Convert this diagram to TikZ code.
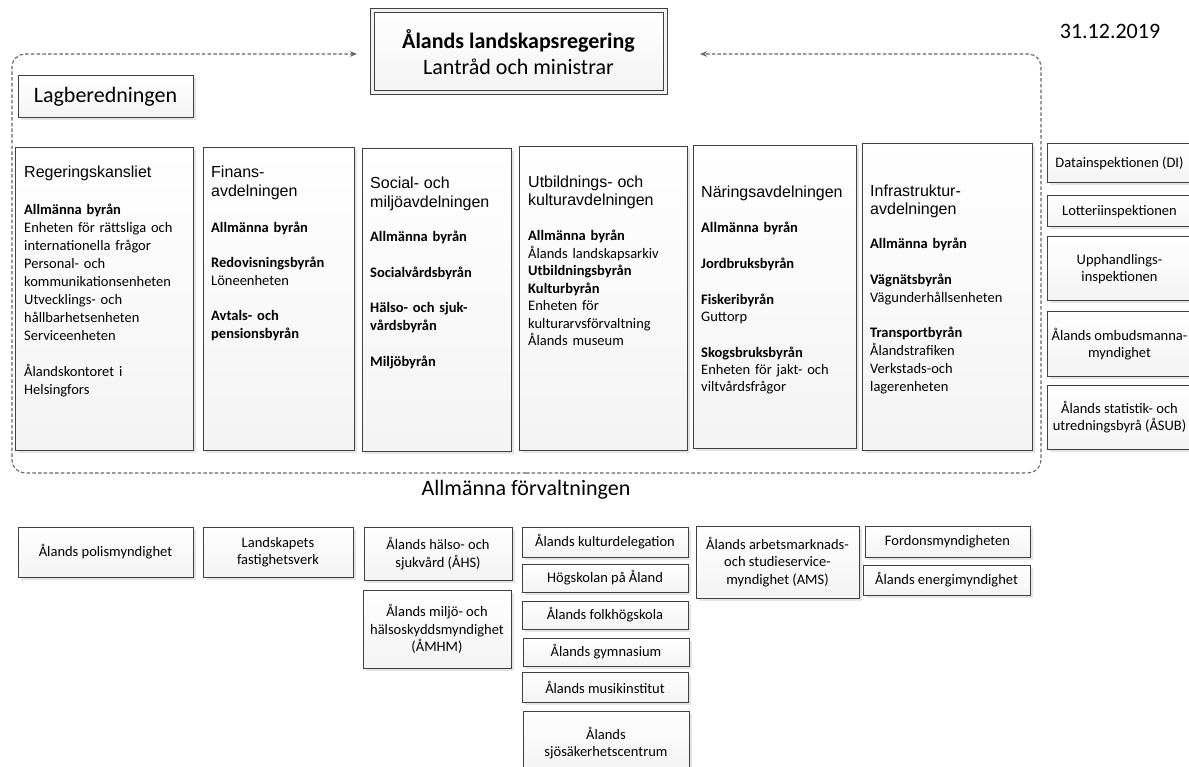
\documentclass[tikz,border=0pt]{standalone}
\usepackage{fontspec}
\setmainfont{Carlito}
\newfontfamily\titlef{Liberation Sans}
\newcommand\deptttl{\titlef\fontsize{16}{18}\selectfont}
\usetikzlibrary{shadows,arrows.meta}
\definecolor{ln}{HTML}{404040}
\definecolor{dl}{HTML}{666666}
\begin{document}
\begin{tikzpicture}[x=1pt,y=-1pt,
  box/.style={draw=ln, line width=1pt, top color=white, bottom color=gray!9,
    drop shadow={shadow xshift=2.5pt,shadow yshift=-2.5pt,fill=black,opacity=0.1},
    anchor=north west, inner sep=0pt, outer sep=0pt,
    font=\fontsize{14.5}{17.5}\selectfont, align=center},
  coltxt/.style={anchor=north west, inner sep=0pt, text width=172pt, align=left,
    font=\fontsize{14.5}{18}\selectfont},
  frame/.style={draw=dl, line width=1.1pt, dash pattern=on 3.5pt off 2.2pt,
    rounded corners=13pt, -{Stealth[length=7pt,width=5.5pt]}},
]
\fill[white] (0,0) rectangle (1189,767);
\useasboundingbox (0,0) rectangle (1189,767);

% top
\node[box, draw=ln, double=gray!10, double distance=3pt, minimum width=293pt, minimum height=82pt,
  font=\fontsize{22}{26}\selectfont] (top) at (372,11)
  {\textbf{Ålands landskapsregering}\\[-0.5pt]Lantråd och ministrar};
\node[anchor=base, inner sep=0pt, font=\fontsize{22}{26}\selectfont] (date) at (1110,39) {31.12.2019};

% frame
\coordinate (fb) at (526,473);
\coordinate (fbl) at (12,473);
\coordinate (ftl) at (12,54);
\coordinate (fbr) at (1041,473);
\coordinate (ftr) at (1041,54);
\draw[frame, shorten >=15pt] (fb) -- (fbl) -- (ftl) -- (top.west |- ftl);
\draw[frame, shorten >=35pt] (fb) -- (fbr) -- (ftr) -- (top.east |- ftr);
\node[anchor=base, inner sep=0pt, font=\fontsize{22}{26}\selectfont] (af) at (526,495) {Allmänna förvaltningen};

% Lagberedningen
\node[box, minimum width=175pt, minimum height=42pt, font=\fontsize{22}{26}\selectfont] (lag) at (18,76) {Lagberedningen};

% departments
\node[box, minimum width=178pt, minimum height=302pt] (rk) at (15,148) {};
\node[box, minimum width=151pt, minimum height=302pt] (fin) at (203,148) {};
\node[box, minimum width=149pt, minimum height=302pt] (soc) at (362,149) {};
\node[box, minimum width=168pt, minimum height=303pt] (utb) at (519,147) {};
\node[box, minimum width=163pt, minimum height=302pt] (nar) at (693,146) {};
\node[box, minimum width=170pt, minimum height=306pt] (inf) at (862,144) {};

\node[coltxt] (rkt) at (24,165.4) {{\deptttl Regeringskansliet}\\[19pt]
\textbf{Allmänna byrån}\\
Enheten för rättsliga och\\
internationella frågor\\
Personal- och\\
kommunikationsenheten\\
Utvecklings- och\\
hållbarhetsenheten\\
Serviceenheten\\[18pt]
Ålandskontoret i\\
Helsingfors};

\node[coltxt] (fint) at (211,165.4) {{\deptttl Finans-}\\[1pt]
{\deptttl avdelningen}\\[18pt]
\textbf{Allmänna byrån}\\[17pt]
\textbf{Redovisningsbyrån}\\
Löneenheten\\[17pt]
\textbf{Avtals- och}\\
\textbf{pensionsbyrån}};

\node[coltxt] (soct) at (370,176.4) {{\deptttl Social- och}\\[1pt]
{\deptttl miljöavdelningen}\\[16pt]
\textbf{Allmänna byrån}\\[18pt]
\textbf{Socialvårdsbyrån}\\[17pt]
\textbf{Hälso- och sjuk-}\\
\textbf{vårdsbyrån}\\[18pt]
\textbf{Miljöbyrån}};

\node[coltxt, font=\fontsize{14.5}{17.5}\selectfont] (utbt) at (528,175.4) {{\deptttl Utbildnings- och}\\[0.5pt]
{\deptttl kulturavdelningen}\\[18pt]
\textbf{Allmänna byrån}\\
Ålands landskapsarkiv\\
\textbf{Utbildningsbyrån}\\
\textbf{Kulturbyrån}\\
Enheten för\\
kulturarvsförvaltning\\
Ålands museum};

\node[coltxt, font=\fontsize{14.5}{17}\selectfont] (nart) at (701,185.4) {{\deptttl Näringsavdelningen}\\[18pt]
\textbf{Allmänna byrån}\\[19pt]
\textbf{Jordbruksbyrån}\\[19pt]
\textbf{Fiskeribyrån}\\
Guttorp\\[19pt]
\textbf{Skogsbruksbyrån}\\
Enheten för jakt- och\\
viltvårdsfrågor};

\node[coltxt] (inft) at (870,184.4) {{\deptttl Infrastruktur-}\\
{\deptttl avdelningen}\\[16pt]
\textbf{Allmänna byrån}\\[18pt]
\textbf{Vägnätsbyrån}\\
Vägunderhållsenheten\\[17pt]
\textbf{Transportbyrån}\\
Ålandstrafiken\\
Verkstads-och\\
lagerenheten};

% right column
\node[box, minimum width=145pt, minimum height=39pt] (di) at (1047,144) {Datainspektionen (DI)};
\node[box, minimum width=145pt, minimum height=31pt] (lot) at (1047,196) {Lotteriinspektionen};
\node[box, minimum width=145pt, minimum height=64pt] (upp) at (1047,237) {Upphandlings-\\inspektionen};
\node[box, minimum width=145pt, minimum height=64pt] (omb) at (1047,312) {Ålands ombudsmanna-\\myndighet};
\node[box, minimum width=145pt, minimum height=64pt] (asub) at (1047,385) {Ålands statistik- och\\utredningsbyrå (ÅSUB)};

% bottom
\node[box, minimum width=175pt, minimum height=50pt] (pol) at (18,527) {Ålands polismyndighet};
\node[box, minimum width=150pt, minimum height=50pt] (fas) at (203,527) {Landskapets\\fastighetsverk};
\node[box, minimum width=148pt, minimum height=53pt] (ahs) at (364,527) {Ålands hälso- och\\sjukvård (ÅHS)};
\node[box, minimum width=148pt, minimum height=78pt] (amhm) at (363,590) {Ålands miljö- och\\hälsoskyddsmyndighet\\(ÅMHM)};
\node[box, minimum width=166pt, minimum height=30pt] (kul) at (522,527) {Ålands kulturdelegation};
\node[box, minimum width=166pt, minimum height=28pt] (hog) at (522,564) {Högskolan på Åland};
\node[box, minimum width=166pt, minimum height=28pt] (folk) at (522,601) {Ålands folkhögskola};
\node[box, minimum width=166pt, minimum height=28pt] (gym) at (523,638) {Ålands gymnasium};
\node[box, minimum width=166pt, minimum height=30pt] (mus) at (522,672) {Ålands musikinstitut};
\node[box, minimum width=166pt, minimum height=64pt] (sjo) at (523,711) {Ålands\\sjösäkerhetscentrum};
\node[box, minimum width=163pt, minimum height=72pt] (ams) at (696,526) {Ålands arbetsmarknads-\\och studieservice-\\myndighet (AMS)};
\node[box, minimum width=165pt, minimum height=31pt] (ford) at (865,526) {Fordonsmyndigheten};
\node[box, minimum width=167pt, minimum height=30pt] (ene) at (863,565) {Ålands energimyndighet};
\end{tikzpicture}
\end{document}
